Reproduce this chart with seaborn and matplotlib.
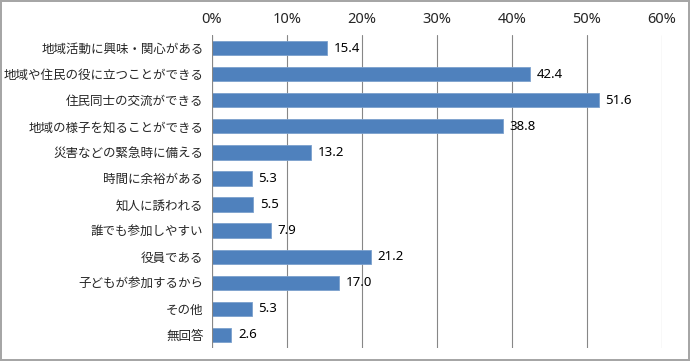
import seaborn as sns
import matplotlib.pyplot as plt
import pandas as pd

categories = ['地域活動に興味・関心がある', '地域や住民の役に立つことができる', '住民同士の交流ができる',
              '地域の様子を知ることができる', '災害などの緊急時に備える', '時間に余裕がある',
              '知人に誘われる', '誰でも参加しやすい', '役員である', '子どもが参加するから',
              'その他', '無回答']
values = [15.4, 42.4, 51.6, 38.8, 13.2, 5.3, 5.5, 7.9, 21.2, 17.0, 5.3, 2.6]
ticks = [0, 10, 20, 30, 40, 50, 60]
tick_labels = ['0%', '10%', '20%', '30%', '40%', '50%', '60%']

df = pd.DataFrame({'item': categories, 'pct': values})

sns.set_style('white')
plt.rcParams['font.family'] = ['Noto Sans CJK JP', 'DejaVu Sans']

fig = plt.figure(figsize=(6.9, 3.61), dpi=100, edgecolor='#A6A6A6', linewidth=1.5)
ax = fig.add_axes([0.307, 0.036, 0.652, 0.867])

sns.barplot(data=df, x='pct', y='item', orient='h', color='#4F81BD', saturation=1,
            width=0.55, edgecolor='#7BA0CD', linewidth=0.6, ax=ax)

for i, v in enumerate(values):
    ax.text(v + 0.9, i, f'{v:.1f}', va='center', ha='left', fontsize=9.5,
            family=['Noto Sans', 'DejaVu Sans'], color='#000000')

ax.set_xlim(0, 60)
ax.set_xticks(ticks)
ax.set_xticklabels(tick_labels, fontsize=10.5, family=['Noto Sans', 'DejaVu Sans'])
ax.xaxis.tick_top()
ax.tick_params(axis='x', length=0, pad=6)
ax.tick_params(axis='y', length=0, labelsize=9, pad=6)
ax.set_xlabel('')
ax.set_ylabel('')
ax.grid(axis='x', color='#878787', linewidth=0.8)
ax.set_axisbelow(True)
for s in ax.spines.values():
    s.set_visible(False)
ax.axvline(0, color='#878787', linewidth=0.8)

fig.savefig('out.png', dpi=100)
